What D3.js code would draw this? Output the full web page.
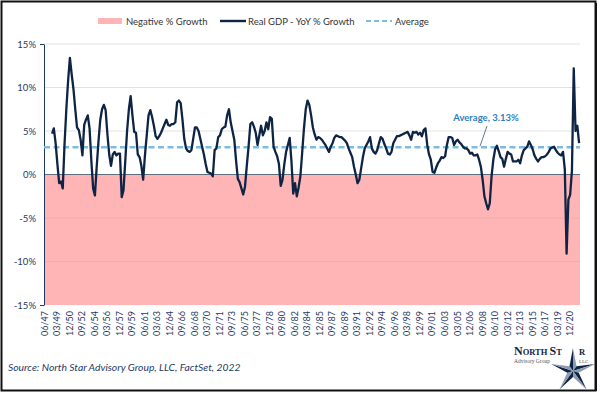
<!DOCTYPE html>
<html>
<head>
<meta charset="utf-8">
<script src="https://cdnjs.cloudflare.com/ajax/libs/d3/7.8.5/d3.min.js"></script>
<style>
  body { margin: 0; background: #fff; }
  svg { display: block; font-family: Lato, "Open Sans", sans-serif; }
</style>
</head>
<body>
<svg id="chart" width="600" height="394"></svg>
<script>
// ---- data ----
const firstYear = 1947
const quarterMonths = ["03", "06", "09", "12"]
// Real GDP YoY % growth, one row per year (Q1..Q4), null = no value
const growthByYear = [
  [null, null, null, null],   // 1947 (axis starts at 06/47)
  [null, 4.7, 5.3, 3.6],      // 1948
  [1.2, -1.0, -0.8, -1.6],
  [3.5, 7.5, 10.8, 13.4],     // 1950
  [11.5, 9.8, 7.5, 5.4],
  [5.1, 4.0, 2.2, 5.7],
  [6.3, 6.8, 5.3, 1.6],
  [-1.6, -2.4, 0.9, 3.8],
  [6.3, 7.5, 8.0, 7.4],       // 1955
  [4.6, 2.3, 1.0, 2.3],
  [2.6, 2.2, 2.4, 2.4],
  [-2.6, -1.8, 1.6, 5.0],
  [7.5, 9.0, 6.8, 4.9],
  [4.8, 2.3, 2.0, 1.0],       // 1960
  [-0.6, 2.2, 4.5, 6.8],
  [7.4, 6.6, 5.6, 4.4],
  [4.1, 4.4, 4.8, 5.3],
  [5.8, 6.3, 5.7, 5.6],
  [5.8, 5.8, 6.0, 8.3],       // 1965
  [8.5, 8.2, 6.3, 4.1],
  [3.0, 2.7, 2.6, 2.8],
  [4.1, 5.4, 5.4, 5.0],
  [4.1, 3.2, 2.3, 1.2],
  [0.3, 0.2, 0.1, -0.2],      // 1970
  [2.8, 3.0, 4.3, 4.5],
  [5.2, 5.4, 5.5, 6.8],
  [7.5, 6.0, 5.0, 4.0],
  [1.6, -0.5, -0.9, -1.6],
  [-2.3, -1.4, 1.0, 3.2],     // 1975
  [5.8, 6.0, 5.5, 4.8],
  [3.4, 4.5, 5.6, 4.5],
  [5.0, 6.0, 5.2, 6.6],
  [6.4, 3.2, 2.6, 2.1],
  [1.2, -1.3, -0.6, 1.2],     // 1980
  [2.6, 3.4, 4.2, 1.5],
  [-2.2, -1.0, -2.5, -1.5],
  [-0.2, 2.5, 5.3, 7.5],
  [8.5, 8.0, 6.8, 5.4],
  [4.6, 4.0, 4.3, 4.2],       // 1985
  [4.0, 3.7, 3.4, 3.0],
  [2.6, 3.2, 3.6, 4.2],
  [4.5, 4.4, 4.3, 4.3],
  [4.1, 3.9, 3.6, 3.0],
  [2.5, 2.0, 0.9, 0.0],       // 1990
  [-1.0, -0.6, 0.7, 2.0],
  [3.0, 3.4, 3.8, 4.3],
  [3.0, 2.6, 2.4, 2.8],
  [3.6, 4.3, 4.1, 3.5],
  [3.0, 2.4, 2.3, 2.6],       // 1995
  [3.6, 4.0, 4.4, 4.4],
  [4.5, 4.6, 4.7, 4.8],
  [4.9, 4.5, 4.0, 4.9],
  [4.8, 4.9, 4.6, 4.8],
  [4.4, 5.1, 5.3, 3.4],       // 2000
  [2.3, 1.7, 0.3, 0.2],
  [0.8, 1.3, 1.6, 2.0],
  [1.9, 2.1, 3.4, 4.3],
  [4.3, 4.2, 3.4, 3.8],
  [4.0, 3.7, 3.5, 3.2],       // 2005
  [3.0, 3.0, 2.8, 2.4],
  [2.5, 2.2, 2.2, 2.3],
  [1.7, 0.9, -0.6, -2.5],
  [-3.3, -4.0, -3.3, -0.2],
  [1.7, 2.9, 3.3, 2.7],       // 2010
  [2.0, 1.8, 0.9, 1.8],
  [2.6, 2.4, 2.3, 1.5],
  [1.5, 1.5, 1.7, 1.3],
  [2.2, 2.8, 3.0, 3.2],
  [3.8, 3.4, 2.9, 2.2],       // 2015
  [1.8, 1.5, 1.8, 2.0],
  [2.0, 2.1, 2.3, 2.6],
  [3.0, 3.1, 3.2, 2.8],
  [2.5, 2.3, 2.2, 2.6],
  [0.6, -9.1, -2.9, -2.3],    // 2020
  [0.5, 12.2, 5.0, 5.6],
  [3.6]                       // 2022
]
const averageGrowth = 3.13
const yTicks = [-15, -10, -5, 0, 5, 10, 15]
const tickLabels = ["06/47","03/49","12/50","09/52","06/54","03/56","12/57","09/59","06/61","03/63",
  "12/64","09/66","06/68","03/70","12/71","09/73","06/75","03/77","12/78","09/80","06/82","03/84",
  "12/85","09/87","06/89","03/91","12/92","09/94","06/96","03/98","12/99","09/01","06/03","03/05",
  "12/06","09/08","06/10","03/12","12/13","09/15","06/17","03/19","12/20"]

// flatten into quarterly categories
const cats = [], vals = []
growthByYear.forEach((row, yi) => {
  row.forEach((v, q) => {
    if (yi === 0 && q === 0) return
    const yy = String((firstYear + yi) % 100).padStart(2, "0")
    cats.push(quarterMonths[q] + "/" + yy)
    vals.push(v)
  })
})

const navy = "#0e2444"
const labelColor = "#1f3864"
const svg = d3.select("#chart")

const x = d3.scaleBand().domain(cats).range([44, 580])
const y = d3.scaleLinear().domain([-15, 15]).range([305, 44])
const cx = c => x(c) + x.bandwidth() / 2

// frame
svg.append("rect").attr("x", 1.5).attr("y", 1.5).attr("width", 594).attr("height", 389)
  .attr("fill", "none").attr("stroke", "#111").attr("stroke-width", 2)
svg.append("line").attr("x1", 596).attr("y1", 3).attr("x2", 596).attr("y2", 391)
  .attr("stroke", "#111").attr("stroke-width", 2)

// gridlines above zero
svg.append("g").selectAll("line").data(yTicks.filter(t => t > 0)).join("line")
  .attr("x1", 44).attr("x2", 580)
  .attr("y1", d => y(d)).attr("y2", d => y(d))
  .attr("stroke", "#e2e2e2").attr("stroke-width", 1)

// negative growth zone
svg.append("rect")
  .attr("x", 44).attr("y", y(0))
  .attr("width", 580 - 44).attr("height", y(-15) - y(0))
  .attr("fill", "#ffb5b6")

svg.append("g").selectAll("line").data(yTicks.filter(t => t < 0 && t > -15)).join("line")
  .attr("x1", 44).attr("x2", 580)
  .attr("y1", d => y(d)).attr("y2", d => y(d))
  .attr("stroke", "#000").attr("stroke-opacity", 0.05).attr("stroke-width", 1)

// zero line
svg.append("line").attr("x1", 44).attr("x2", 580).attr("y1", y(0)).attr("y2", y(0))
  .attr("stroke", "#5f6f80").attr("stroke-width", 1.2)

// y axis
const yAxis = svg.append("g").attr("transform", "translate(44,0)")
  .call(d3.axisLeft(y).tickValues(yTicks).tickSize(0).tickPadding(8).tickFormat(d => d + "%"))
yAxis.select(".domain").attr("stroke", labelColor)
yAxis.selectAll("text").attr("fill", labelColor).attr("font-size", "9.5px")
  .attr("font-family", "Lato, sans-serif")
yAxis.selectAll(".tick").filter(d => d === 15 || d === -15).append("line")
  .attr("x1", -4).attr("x2", 0).attr("stroke", labelColor)

// x axis labels
const xAxis = svg.append("g").attr("transform", `translate(0,${y(-15)})`)
  .call(d3.axisBottom(x).tickValues(tickLabels).tickSize(0).tickPadding(0))
xAxis.select(".domain").remove()
xAxis.selectAll("text")
  .attr("fill", labelColor).attr("font-size", "9px").attr("font-family", "Lato, sans-serif")
  .attr("text-anchor", "end")
  .attr("transform", "translate(0,6) rotate(-90)")
  .attr("dx", 0).attr("dy", "0.32em").attr("y", 0).attr("x", 0)

// average line
svg.append("line").attr("x1", 44).attr("x2", 580)
  .attr("y1", y(averageGrowth)).attr("y2", y(averageGrowth))
  .attr("stroke", "#7dbbe0").attr("stroke-width", 2.4).attr("stroke-dasharray", "6,3.5")

// GDP line
const line = d3.line()
  .defined(d => d.v != null)
  .x(d => cx(d.c))
  .y(d => y(d.v))
svg.append("path")
  .datum(cats.map((c, i) => ({ c: c, v: vals[i] })))
  .attr("d", line)
  .attr("fill", "none").attr("stroke", navy).attr("stroke-width", 2.3)
  .attr("stroke-linejoin", "round")

// average annotation
svg.append("line").attr("x1", 487).attr("y1", 126).attr("x2", 480).attr("y2", y(averageGrowth) - 1)
  .attr("stroke", "#44546a").attr("stroke-width", 0.8)
svg.append("text").attr("x", 486).attr("y", 121).attr("text-anchor", "middle")
  .attr("fill", "#2e7fc0").attr("font-weight", "bold").attr("font-size", "9.5px")
  .text(`Average, ${averageGrowth}%`)

// legend
const lg = svg.append("g").attr("font-size", "9.5px").attr("fill", "#333")
lg.append("rect").attr("x", 98).attr("y", 18).attr("width", 24).attr("height", 6).attr("fill", "#ffb5b6")
lg.append("text").attr("x", 126).attr("y", 24.5).text("Negative % Growth")
lg.append("line").attr("x1", 220).attr("x2", 246).attr("y1", 21).attr("y2", 21)
  .attr("stroke", navy).attr("stroke-width", 2.4)
lg.append("text").attr("x", 248).attr("y", 24.5).text("Real GDP - YoY % Growth")
lg.append("line").attr("x1", 366).attr("x2", 392).attr("y1", 21).attr("y2", 21)
  .attr("stroke", "#7dbbe0").attr("stroke-width", 2.2).attr("stroke-dasharray", "5,3")
lg.append("text").attr("x", 395).attr("y", 24.5).text("Average")

// source
svg.append("text").attr("x", 8).attr("y", 371)
  .attr("fill", labelColor).attr("font-style", "italic").attr("font-size", "10.3px")
  .text("Source: North Star Advisory Group, LLC, FactSet, 2022")

// logo
const logo = svg.append("g").attr("font-family", "'Liberation Serif', 'DejaVu Serif', serif")
  .attr("fill", navy).attr("font-weight", "bold")
const nameText = logo.append("text").attr("x", 514).attr("y", 355)
nameText.append("tspan").attr("font-size", "12px").text("N")
nameText.append("tspan").attr("font-size", "8.5px").text("ORTH ")
nameText.append("tspan").attr("font-size", "12px").text("S")
nameText.append("tspan").attr("font-size", "8.5px").text("T")
logo.append("text").attr("x", 579).attr("y", 355).attr("font-size", "8.5px").text("R")
logo.append("text").attr("x", 514).attr("y", 363).attr("fill", "#555").attr("font-weight", "normal")
  .attr("font-size", "5.5px").text("Advisory Group")
logo.append("text").attr("x", 579).attr("y", 363).attr("fill", "#555").attr("font-weight", "normal")
  .attr("font-size", "5px").text("LLC")
const starC = [573, 371], rOut = 23, rIn = 6
const star = logo.append("g")
d3.range(5).forEach(k => {
  const a = -Math.PI / 2 + k * 2 * Math.PI / 5
  const tip = [starC[0] + rOut * Math.cos(a), starC[1] + rOut * Math.sin(a)]
  const l = [starC[0] + rIn * Math.cos(a - Math.PI / 5), starC[1] + rIn * Math.sin(a - Math.PI / 5)]
  const r = [starC[0] + rIn * Math.cos(a + Math.PI / 5), starC[1] + rIn * Math.sin(a + Math.PI / 5)]
  star.append("path").attr("d", `M${starC}L${tip}L${l}Z`).attr("fill", navy)
  star.append("path").attr("d", `M${starC}L${tip}L${r}Z`).attr("fill", "#8d9bb0")
})
</script>
</body>
</html>
